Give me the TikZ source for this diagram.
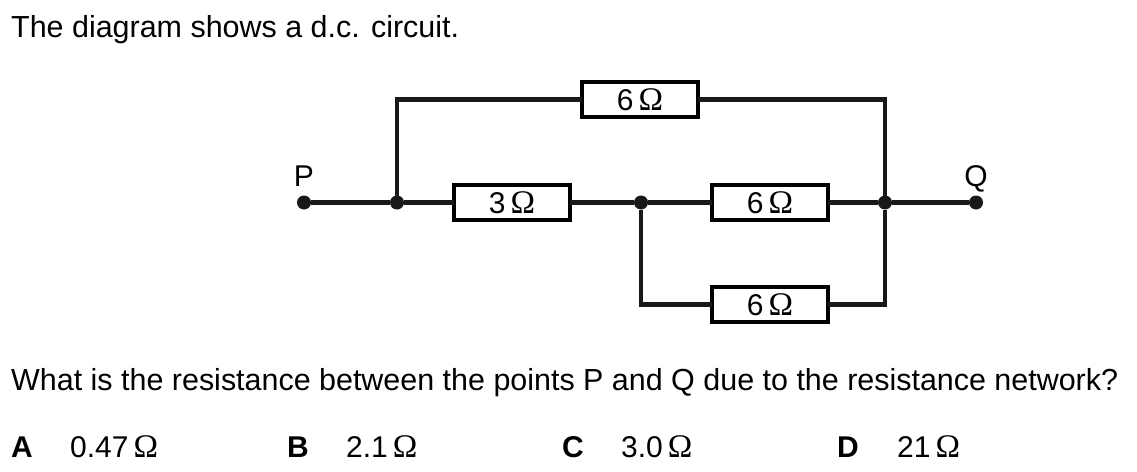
\documentclass[tikz,border=0pt]{standalone}
\usepackage{fontspec}
\setmainfont{Liberation Sans}
\newfontfamily\omegafont[Scale=1.1]{Liberation Serif}
\usetikzlibrary{positioning}
\newcommand{\ohmsym}{{\omegafont\char"03A9}}
\tikzset{
  resistor/.style={draw,line width=4.5pt,fill=white,outer sep=0pt,minimum width=116pt,minimum height=35pt,inner sep=0pt,font=\fontsize{30}{32}\selectfont},
  junction/.style={circle,fill=black!90,outer sep=0pt,minimum size=14pt,inner sep=0pt},
  wire/.style={line width=4.5pt,black!90},
  terminal/.style={inner sep=0pt,text depth=0pt,font=\fontsize{30}{32}\selectfont},
  question/.style={anchor=base west,inner sep=0pt,font=\fontsize{30.45}{32}\selectfont},
  choice/.style={anchor=base west,inner sep=0pt,font=\fontsize{30}{32}\selectfont},
  letter/.style={anchor=base west,inner sep=0pt,font=\fontsize{30}{32}\selectfont\bfseries}
}
\begin{document}
\begin{tikzpicture}[x=1pt,y=-1pt]
\useasboundingbox (0,0) rectangle (1137,471);
\node[question] (top) at (11,37) {The diagram shows a d.c. circuit.};
\node[question] (ask) at (11,390) {What is the resistance between the points P and Q due to the resistance network?};
% circuit
\node[junction] (P) at (304,202.5) {};
\node[junction] (jleft) at (397,202.5) {};
\node[junction] (jmid) at (641,202.5) {};
\node[junction] (jright) at (885,202.5) {};
\node[junction] (Q) at (976,202.5) {};
\node[resistor] (rtop) at (640,99.5) {6\,\ohmsym};
\node[resistor] (rthree) at (512,202.5) {3\,\ohmsym};
\node[resistor] (rmid) at (770,202.5) {6\,\ohmsym};
\node[resistor] (rlow) at (770,304.5) {6\,\ohmsym};
\draw[wire] (P)--(jleft)--(rthree)--(jmid)--(rmid)--(jright)--(Q);
\draw[wire] (jleft)|-(rtop);
\draw[wire] (rtop)-|(jright);
\draw[wire] (jmid)|-(rlow);
\draw[wire] (rlow)-|(jright);
\node[terminal,above=9pt of P] (Plabel) {P};
\node[terminal,above=9pt of Q] (Qlabel) {Q};
% answers
\node[letter] (a) at (11,457) {A};
\node[choice] (av) at (70,457) {0.47\,\ohmsym};
\node[letter] (b) at (287,457) {B};
\node[choice] (bv) at (346,457) {2.1\,\ohmsym};
\node[letter] (c) at (562,457) {C};
\node[choice] (cv) at (621,457) {3.0\,\ohmsym};
\node[letter] (d) at (837,457) {D};
\node[choice] (dv) at (897,457) {21\,\ohmsym};
\end{tikzpicture}
\end{document}
